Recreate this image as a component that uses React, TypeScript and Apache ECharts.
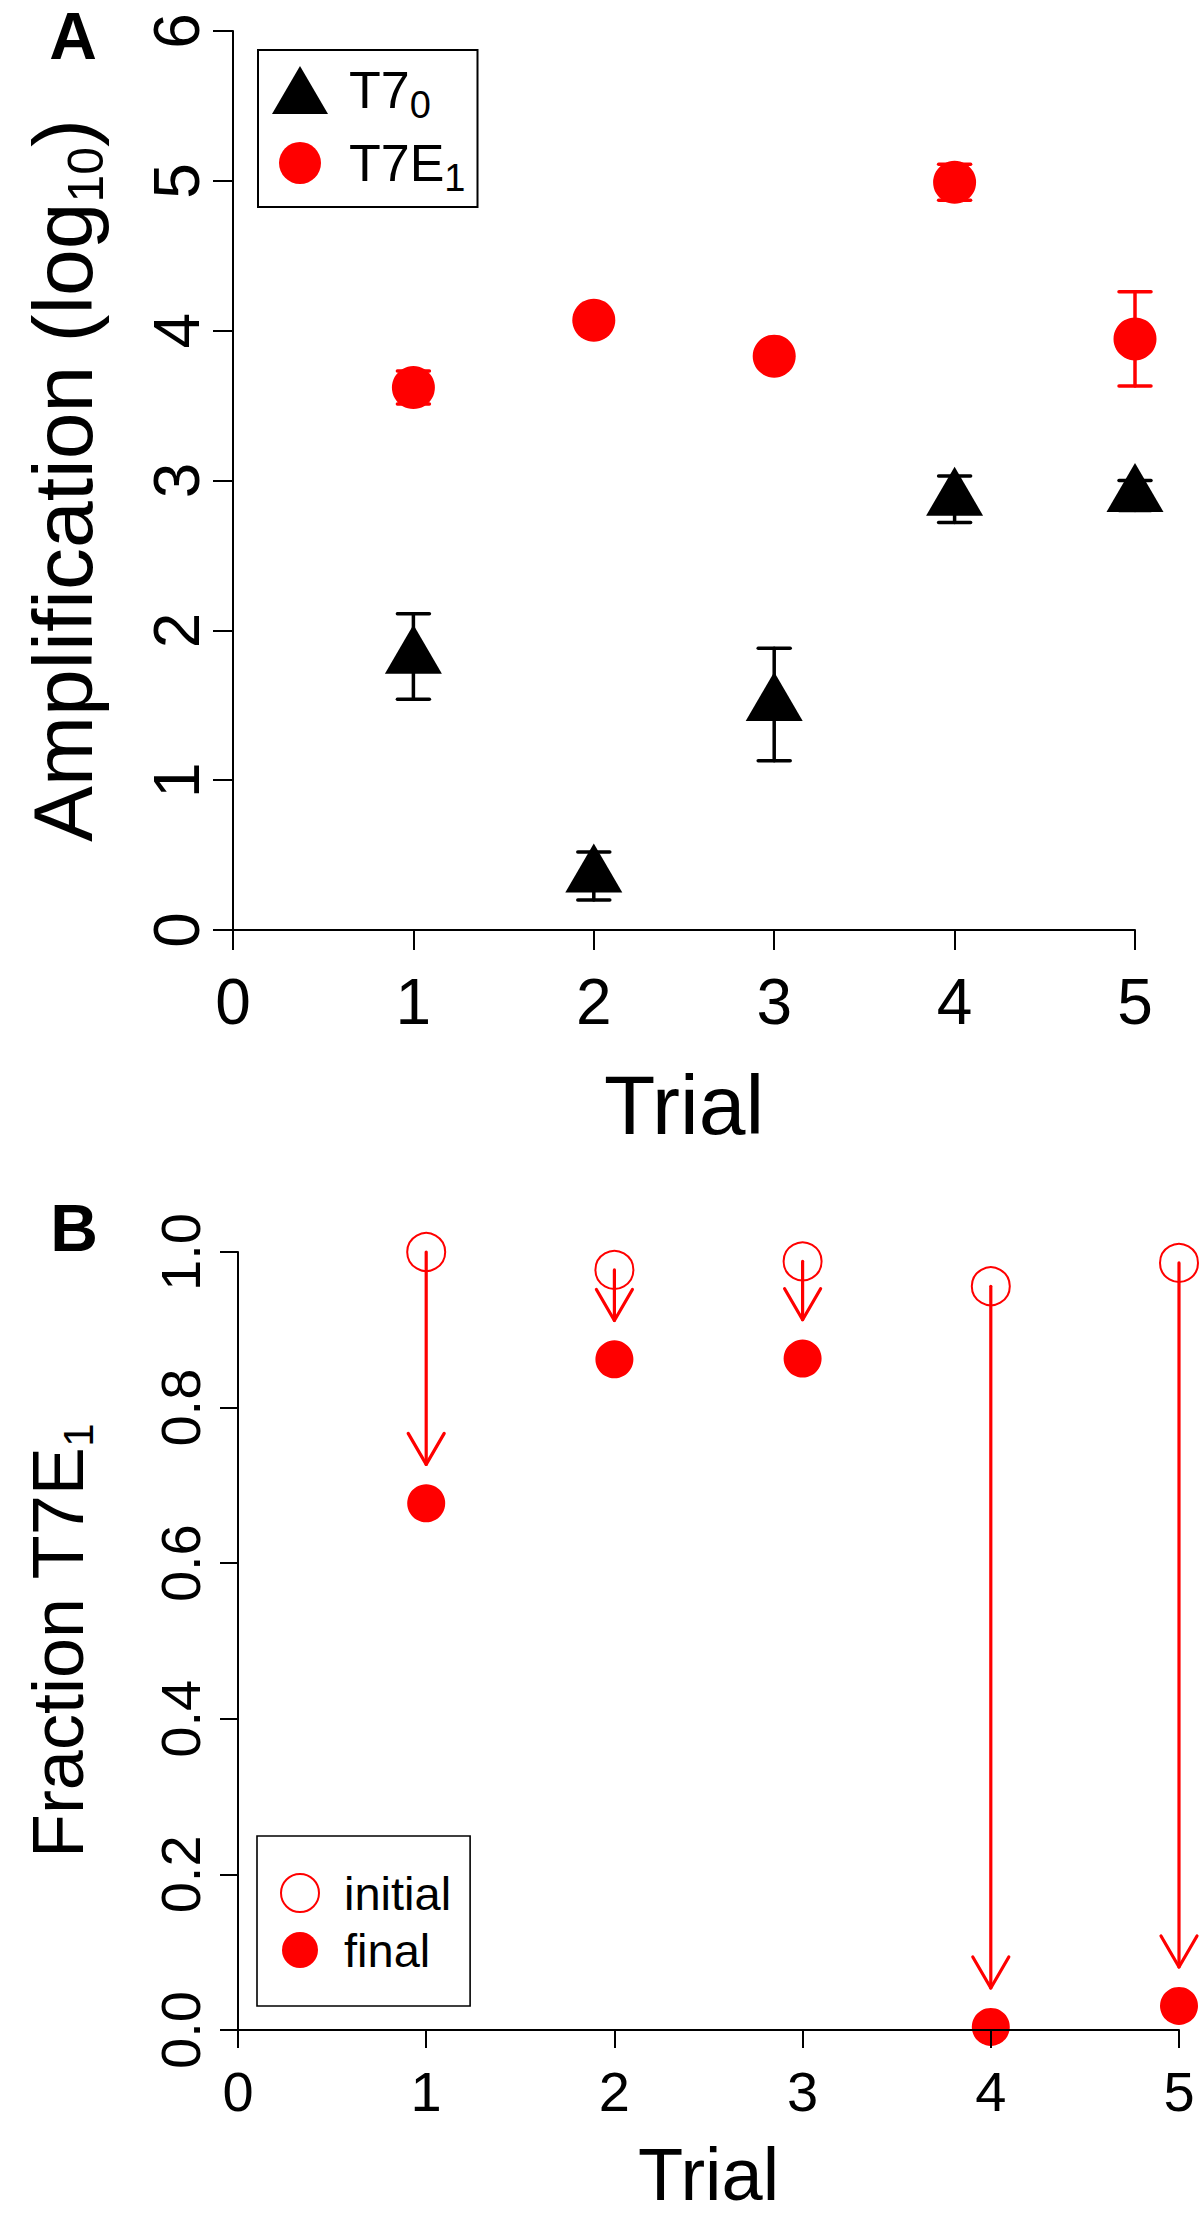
import React, { useEffect, useRef } from "react";
import * as echarts from "echarts";

const FONT = '"Liberation Sans", Arial, Helvetica, sans-serif';

// ---- data ----
const trials = [1, 2, 3, 4, 5];

// Panel A: amplification (log10), mean with error range
const t70Mean = [1.82, 0.36, 1.505, 2.875, 2.9];
const t70Low = [1.54, 0.2, 1.13, 2.72, 2.8];
const t70High = [2.11, 0.52, 1.88, 3.03, 3.0];

const t7e1Mean = [3.62, 4.07, 3.83, 4.99, 3.945];
const t7e1Low = [3.51, 4.02, 3.78, 4.87, 3.63];
const t7e1High = [3.73, 4.12, 3.88, 5.11, 4.26];

// Panel B: fraction T7E1, initial and final
const fracInitial = [1.0, 0.977, 0.988, 0.956, 0.986];
const fracFinal = [0.677, 0.862, 0.863, 0.004, 0.031];
const arrowGap = 0.05; // arrows stop this far above the final value

const yTicksB = [0, 0.2, 0.4, 0.6, 0.8, 1.0];

// legend icons (the invisible move-to points fix the icon's box)
const ICON_TRI = "path://M0,0M56,68M28,10L56,58L0,58Z";
const ICON_CIRC_A = "path://M0,0M56,68M7,34A21,21,0,1,1,49,34A21,21,0,1,1,7,34Z";
const ICON_OPEN_B = "path://M0,0M44,48M3,24A19,19,0,1,1,41,24A19,19,0,1,1,3,24Z";
const ICON_FILL_B = "path://M0,0M44,48M4,24A18,18,0,1,1,40,24A18,18,0,1,1,4,24Z";

const errorBarItem =
  (color: string, half: number, width: number) => (_params: any, api: any) => {
    const x = api.value(0);
    const lo = api.coord([x, api.value(1)]);
    const hi = api.coord([x, api.value(2)]);
    const style = { stroke: color, lineWidth: width, lineCap: "round" };
    return {
      type: "group",
      children: [
        { type: "line", shape: { x1: lo[0], y1: lo[1], x2: hi[0], y2: hi[1] }, style },
        { type: "line", shape: { x1: lo[0] - half, y1: lo[1], x2: lo[0] + half, y2: lo[1] }, style },
        { type: "line", shape: { x1: hi[0] - half, y1: hi[1], x2: hi[0] + half, y2: hi[1] }, style },
      ],
    };
  };

const arrowItem = (_params: any, api: any) => {
  const x = api.value(0);
  const p0 = api.coord([x, api.value(1)]);
  const p1 = api.coord([x, api.value(2) + arrowGap]);
  const wx = 18;
  const wy = 31;
  const style = { stroke: "#ff0000", lineWidth: 3.2, lineCap: "round", lineJoin: "round", fill: "none" };
  return {
    type: "group",
    children: [
      { type: "line", shape: { x1: p0[0], y1: p0[1], x2: p1[0], y2: p1[1] }, style },
      {
        type: "polyline",
        shape: { points: [[p1[0] - wx, p1[1] - wy], [p1[0], p1[1]], [p1[0] + wx, p1[1] - wy]] },
        style,
      },
    ],
  };
};

function axisCommon(tickLen: number, fontSize: number, margin: number) {
  return {
    axisLine: { show: true, onZero: false, lineStyle: { color: "#000", width: 2 } },
    axisTick: { show: true, inside: false, length: tickLen, lineStyle: { color: "#000", width: 2 } },
    axisLabel: { show: true, margin, fontSize, color: "#000", fontFamily: FONT },
    splitLine: { show: false },
  };
}

export default function App() {
  const ref = useRef<HTMLDivElement>(null);

  useEffect(() => {
    document.body.style.margin = "0";
    const chart = echarts.init(ref.current!, null, { renderer: "svg" });

    const option: any = {
      animation: false,
      backgroundColor: "#ffffff",
      grid: [
        { left: 233, top: 31, width: 902, height: 899 },
        { left: 238, top: 1252, width: 941, height: 778 },
      ],
      xAxis: [
        {
          gridIndex: 0,
          type: "value",
          min: 0,
          max: 5,
          interval: 1,
          ...axisCommon(20, 64, 40),
          name: "Trial",
          nameLocation: "middle",
          nameGap: 133,
          nameTextStyle: { fontSize: 84, color: "#000", fontFamily: FONT },
        },
        {
          gridIndex: 1,
          type: "value",
          min: 0,
          max: 5,
          interval: 1,
          z: 10,
          ...axisCommon(18, 56, 33),
          name: "Trial",
          nameLocation: "middle",
          nameGap: 107,
          nameTextStyle: { fontSize: 74, color: "#000", fontFamily: FONT },
        },
      ],
      yAxis: [
        {
          gridIndex: 0,
          type: "value",
          min: 0,
          max: 6,
          interval: 1,
          ...axisCommon(20, 64, 24),
          axisLabel: { show: true, margin: 24, fontSize: 64, color: "#000", fontFamily: FONT, rotate: 90 },
          name: "{m|Amplification (log}{s|10}{m|)}",
          nameLocation: "middle",
          nameGap: 125,
          nameTextStyle: {
            color: "#000",
            fontFamily: FONT,
            fontSize: 84,
            rich: {
              m: { fontSize: 84, lineHeight: 90, fontFamily: FONT, color: "#000" },
              s: { fontSize: 50, lineHeight: 10, padding: [46, 0, 0, 0], fontFamily: FONT, color: "#000" },
            },
          },
        },
        {
          gridIndex: 1,
          type: "value",
          min: 0,
          max: 1,
          interval: 0.2,
          ...axisCommon(18, 56, 30),
          axisLabel: {
            show: true,
            margin: 30,
            fontSize: 56,
            color: "#000",
            fontFamily: FONT,
            rotate: 90,
            formatter: (v: number) => {
              const t = yTicksB.find((k) => Math.abs(k - v) < 1e-9);
              return (t !== undefined ? t : v).toFixed(1);
            },
          },
          name: "{m|Fraction T7E}{s|1}",
          nameLocation: "middle",
          nameGap: 141,
          nameTextStyle: {
            color: "#000",
            fontFamily: FONT,
            fontSize: 72,
            rich: {
              m: { fontSize: 72, lineHeight: 78, fontFamily: FONT, color: "#000" },
              s: { fontSize: 42, lineHeight: 10, padding: [40, 0, 0, 0], fontFamily: FONT, color: "#000" },
            },
          },
        },
      ],
      legend: [
        {
          orient: "vertical",
          left: 258,
          top: 50,
          padding: [6, 12, 10, 14],
          itemGap: 5,
          itemWidth: 56,
          itemHeight: 68,
          borderColor: "#000",
          borderWidth: 2,
          selectedMode: false,
          data: [
            { name: "T7_0", icon: ICON_TRI },
            { name: "T7E_1", icon: ICON_CIRC_A },
          ],
          formatter: (n: string) => (n === "T7_0" ? "{m|T7}{s|0}" : "{m|T7E}{s|1}"),
          textStyle: {
            color: "#000",
            fontFamily: FONT,
            fontSize: 52,
            rich: {
              m: { fontSize: 52, lineHeight: 48, padding: [0, 0, 0, 16], fontFamily: FONT, color: "#000" },
              s: { fontSize: 38, height: 18, lineHeight: 18, verticalAlign: "bottom", fontFamily: FONT, color: "#000" },
            },
          },
        },
        {
          orient: "vertical",
          left: 257,
          top: 1836,
          padding: [32, 19, 32, 20],
          itemGap: 8,
          itemWidth: 44,
          itemHeight: 48,
          borderColor: "#000",
          borderWidth: 1.6,
          selectedMode: false,
          data: [
            { name: "initial", icon: ICON_OPEN_B },
            { name: "final", icon: ICON_FILL_B },
          ],
          formatter: (n: string) => `{g|${n}}`,
          textStyle: {
            color: "#000",
            fontFamily: FONT,
            fontSize: 47,
            rich: {
              g: { fontSize: 47, lineHeight: 48, padding: [0, 0, 0, 17], fontFamily: FONT, color: "#000" },
            },
          },
        },
      ],
      graphic: [
        {
          type: "text",
          x: 73,
          y: 36,
          z: 100,
          style: { text: "A", font: `bold 66px ${FONT}`, fill: "#000", textAlign: "center", textVerticalAlign: "middle" },
        },
        {
          type: "text",
          x: 74,
          y: 1228,
          z: 100,
          style: { text: "B", font: `bold 66px ${FONT}`, fill: "#000", textAlign: "center", textVerticalAlign: "middle" },
        },
      ],
      series: [
        {
          name: "errT70",
          type: "custom",
          xAxisIndex: 0,
          yAxisIndex: 0,
          z: 3,
          encode: { x: 0, y: [1, 2] },
          renderItem: errorBarItem("#000000", 16, 3.5),
          data: trials.map((t, i) => [t, t70Low[i], t70High[i]]),
        },
        {
          name: "T7_0",
          type: "scatter",
          xAxisIndex: 0,
          yAxisIndex: 0,
          z: 2,
          clip: false,
          symbol: "triangle",
          symbolSize: [57, 49],
          symbolOffset: [0, -8],
          itemStyle: { color: "#000000", opacity: 1 },
          data: trials.map((t, i) => [t, t70Mean[i]]),
        },
        {
          name: "errT7E1",
          type: "custom",
          xAxisIndex: 0,
          yAxisIndex: 0,
          z: 3,
          encode: { x: 0, y: [1, 2] },
          renderItem: errorBarItem("#ff0000", 16, 3.5),
          data: trials.map((t, i) => [t, t7e1Low[i], t7e1High[i]]),
        },
        {
          name: "T7E_1",
          type: "scatter",
          xAxisIndex: 0,
          yAxisIndex: 0,
          z: 2,
          clip: false,
          symbol: "circle",
          symbolSize: 43,
          itemStyle: { color: "#ff0000", opacity: 1 },
          data: trials.map((t, i) => [t, t7e1Mean[i]]),
        },
        {
          name: "initial",
          type: "scatter",
          xAxisIndex: 1,
          yAxisIndex: 1,
          z: 2,
          clip: false,
          symbol: "circle",
          symbolSize: 38,
          itemStyle: { color: "rgba(255,0,0,0)", borderColor: "#ff0000", borderWidth: 2, opacity: 1 },
          data: trials.map((t, i) => [t, fracInitial[i]]),
        },
        {
          name: "final",
          type: "scatter",
          xAxisIndex: 1,
          yAxisIndex: 1,
          z: 2,
          clip: false,
          symbol: "circle",
          symbolSize: 38,
          itemStyle: { color: "#ff0000", opacity: 1 },
          data: trials.map((t, i) => [t, fracFinal[i]]),
        },
        {
          name: "arrows",
          type: "custom",
          xAxisIndex: 1,
          yAxisIndex: 1,
          z: 4,
          encode: { x: 0, y: [1, 2] },
          renderItem: arrowItem,
          data: trials.map((t, i) => [t, fracInitial[i], fracFinal[i]]),
        },
      ],
    };

    chart.setOption(option);
    return () => chart.dispose();
  }, []);

  return <div ref={ref} style={{ width: 1200, height: 2216 }} />;
}
